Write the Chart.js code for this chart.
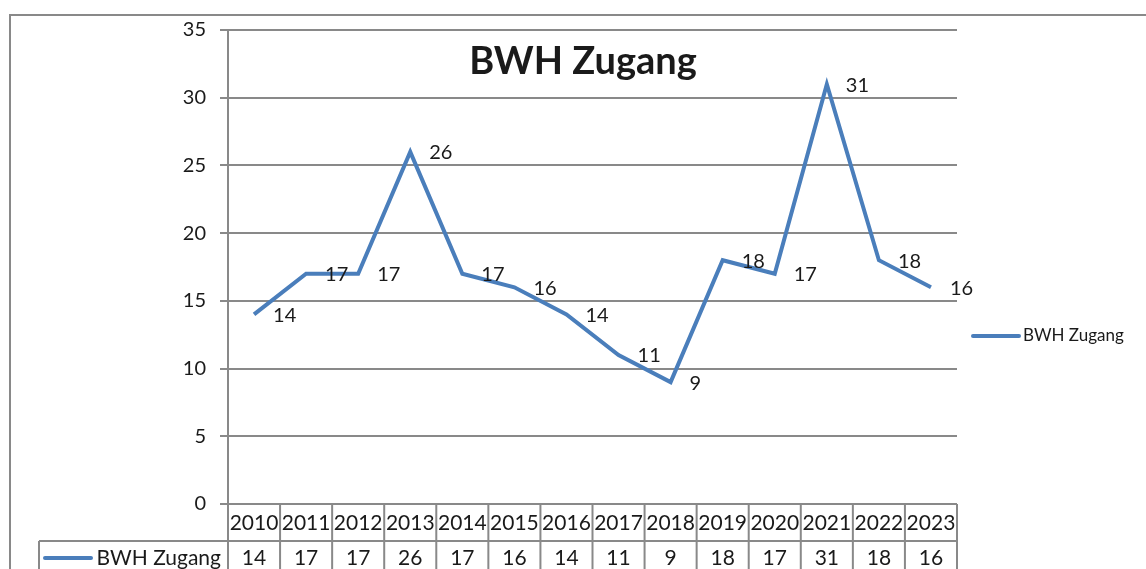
<!DOCTYPE html>
<html>
<head>
<meta charset="utf-8">
<script src="https://cdn.jsdelivr.net/npm/chart.js@4"></script>
<style>
  html, body { margin: 0; padding: 0; background: #fff; }
  #wrap { width: 1146px; height: 569px; position: relative; }
</style>
</head>
<body>
<div id="wrap"><canvas id="c"></canvas></div>
<script>
  const YEARS = ['2010','2011','2012','2013','2014','2015','2016','2017','2018','2019','2020','2021','2022','2023'];
  const ZUGANG = [14, 17, 17, 26, 17, 16, 14, 11, 9, 18, 17, 31, 18, 16];
  const SERIES_NAME = 'BWH Zugang';
  const TITLE = 'BWH Zugang';

  const LINE = '#4A7EBB';
  const GRID = '#898989';
  const TXT = '#1a1a1a';
  const FONT = 'Lato, "Liberation Sans", sans-serif';

  // title, point labels, data table, legend, outer frame
  const extras = {
    id: 'extras',
    afterDraw(chart) {
      const ctx = chart.ctx;
      const a = chart.chartArea;
      const xs = chart.scales.x;
      const meta = chart.getDatasetMeta(0);
      ctx.save();

      // outer frame
      ctx.strokeStyle = GRID; ctx.lineWidth = 2;
      ctx.strokeRect(10, 15, 1200, 700);

      // title
      ctx.fillStyle = TXT;
      ctx.font = 'bold 38px ' + FONT;
      ctx.textAlign = 'center'; ctx.textBaseline = 'middle';
      ctx.fillText(TITLE, 583, 62);

      // point labels, right of each point
      ctx.font = '20px ' + FONT;
      ctx.textAlign = 'left';
      meta.data.forEach((p, i) => ctx.fillText(String(ZUGANG[i]), p.x + 19, p.y + 1));

      // data table
      const n = YEARS.length;
      const w = (a.right - a.left) / n;
      const top = a.bottom, mid = a.bottom + 37, bot = 600;
      ctx.strokeStyle = GRID; ctx.lineWidth = 2;
      ctx.beginPath();
      ctx.moveTo(a.left, top); ctx.lineTo(a.right, top);
      ctx.moveTo(39, mid); ctx.lineTo(a.right, mid);
      for (let k = 0; k <= n; k++) {
        const x = a.left + k * w;
        ctx.moveTo(x, top); ctx.lineTo(x, bot);
      }
      ctx.moveTo(39, mid); ctx.lineTo(39, bot);
      ctx.stroke();

      ctx.fillStyle = TXT;
      ctx.font = '21px ' + FONT;
      ctx.textAlign = 'center';
      YEARS.forEach((y, i) => {
        const cx = xs.getPixelForValue(i);
        ctx.fillText(y, cx, top + 19);
        ctx.fillText(String(ZUGANG[i]), cx, mid + 17);
      });

      ctx.strokeStyle = LINE; ctx.lineWidth = 4; ctx.lineCap = 'round';
      ctx.beginPath(); ctx.moveTo(45, mid + 17); ctx.lineTo(91, mid + 17); ctx.stroke();
      ctx.textAlign = 'right';
      ctx.fillText(SERIES_NAME, a.left - 7, mid + 17);

      // legend on the right
      ctx.beginPath(); ctx.moveTo(973, 336); ctx.lineTo(1019, 336); ctx.stroke();
      ctx.font = '17px ' + FONT;
      ctx.textAlign = 'left';
      ctx.fillText(SERIES_NAME, 1023, 336);

      ctx.restore();
    }
  };

  new Chart(document.getElementById('c'), {
    type: 'line',
    data: {
      labels: YEARS,
      datasets: [{
        label: SERIES_NAME,
        data: ZUGANG,
        borderColor: LINE,
        borderWidth: 4,
        pointRadius: 0,
        tension: 0,
        fill: false,
      }],
    },
    options: {
      responsive: true, maintainAspectRatio: false, animation: false,
      layout: { padding: { left: 0, right: 189, top: 30, bottom: 65 } },
      plugins: { legend: { display: false }, title: { display: false }, tooltip: { enabled: false } },
      scales: {
        x: { type: 'category', offset: true, display: false },
        y: {
          min: 0, max: 35,
          afterFit: s => { s.width = 228; },
          ticks: { stepSize: 5, color: TXT, font: { family: FONT, size: 20 }, padding: 14 },
          grid: { color: GRID, lineWidth: 2, tickLength: 8 },
          border: { color: GRID, width: 2 },
        },
      },
    },
    plugins: [extras],
  });
</script>
</body>
</html>
